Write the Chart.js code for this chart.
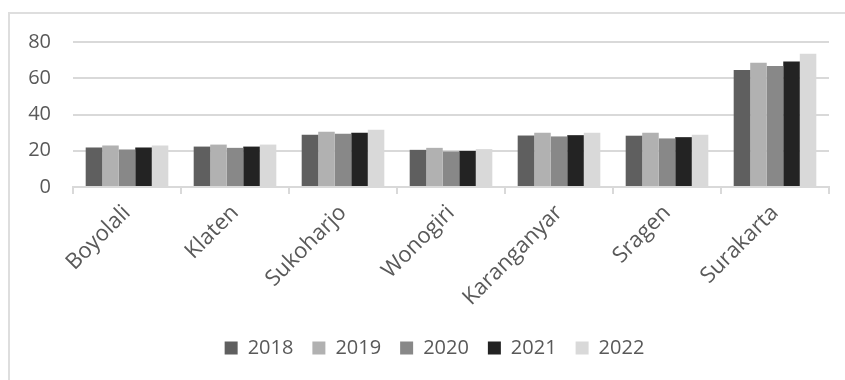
<!DOCTYPE html>
<html lang="en">

<head>
    <meta charset="UTF-8">
    <title>Kabupaten Chart</title>
    <script src="https://cdn.jsdelivr.net/npm/chart.js"></script>
    <style>
        body { margin: 0; background: #fff; }
        #wrap { position: relative; width: 845px; height: 380px; overflow: hidden; }
        #frame {
            position: absolute; left: 8px; top: 12px; width: 900px; height: 500px;
            border-top: 2px solid #dedede; border-left: 2px solid #dedede;
        }
        canvas { position: absolute; left: 0; top: 0; }
    </style>
</head>

<body>
    <div id="wrap">
        <div id="frame"></div>
        <canvas id="barChart" width="845" height="380"></canvas>
    </div>

    <script>
        const regions = ['Boyolali', 'Klaten', 'Sukoharjo', 'Wonogiri', 'Karanganyar', 'Sragen', 'Surakarta'];
        const years = ['2018', '2019', '2020', '2021', '2022'];
        const y2018 = [21.8, 22.3, 28.8, 20.5, 28.4, 28.3, 64.6];
        const y2019 = [22.9, 23.4, 30.5, 21.6, 29.9, 29.9, 68.5];
        const y2020 = [20.7, 21.6, 29.4, 19.6, 27.9, 26.8, 66.7];
        const y2021 = [21.8, 22.3, 29.9, 19.9, 28.6, 27.5, 69.3];
        const y2022 = [22.9, 23.4, 31.6, 20.9, 29.9, 28.8, 73.5];
        const yTicks = [0, 20, 40, 60, 80];

        const colors = ['#5f5f5f', '#b1b1b1', '#888888', '#232323', '#d9d9d9'];
        const series = [y2018, y2019, y2020, y2021, y2022];

        const textColor = '#595959';
        const fontFamily = '"Open Sans", sans-serif';

        // legend sits a little right of centre in the original
        const legendShift = {
            id: 'legendShift',
            afterLayout(chart) {
                chart.legend.left += 20;
                chart.legend.right += 20;
            }
        };

        const ctx = document.getElementById('barChart').getContext('2d');
        const chart = new Chart(ctx, {
            type: 'bar',
            data: {
                labels: regions,
                datasets: series.map((vals, i) => ({
                    label: years[i],
                    data: vals,
                    backgroundColor: colors[i],
                    borderWidth: 0,
                    barPercentage: 1,
                    categoryPercentage: 0.765
                }))
            },
            plugins: [legendShift],
            options: {
                responsive: false,
                animation: false,
                devicePixelRatio: 1,
                layout: {
                    padding: { left: 0, right: 16, top: 42, bottom: 12 }
                },
                plugins: {
                    legend: {
                        position: 'bottom',
                        labels: {
                            boxWidth: 13,
                            boxHeight: 13,
                            padding: 19,
                            color: textColor,
                            font: { family: fontFamily, size: 20 }
                        }
                    },
                    tooltip: { enabled: false }
                },
                scales: {
                    x: {
                        grid: {
                            offset: true,
                            drawOnChartArea: false,
                            drawTicks: true,
                            tickLength: 7,
                            color: '#d9d9d9',
                            lineWidth: 2
                        },
                        border: { color: '#d9d9d9', width: 2 },
                        ticks: {
                            color: textColor,
                            font: { family: fontFamily, size: 22 },
                            maxRotation: 45,
                            minRotation: 45,
                            padding: 6
                        },
                        afterFit: (scale) => { scale.height = 132; }
                    },
                    y: {
                        min: 0,
                        max: 80,
                        afterBuildTicks: (scale) => {
                            scale.ticks = yTicks.map(v => ({ value: v }));
                        },
                        grid: {
                            color: '#d9d9d9',
                            lineWidth: 2,
                            drawTicks: false
                        },
                        border: { display: false },
                        ticks: {
                            color: textColor,
                            font: { family: fontFamily, size: 20 },
                            padding: 22
                        },
                        afterFit: (scale) => { scale.width = 73; }
                    }
                }
            }
        });
    </script>
</body>

</html>
